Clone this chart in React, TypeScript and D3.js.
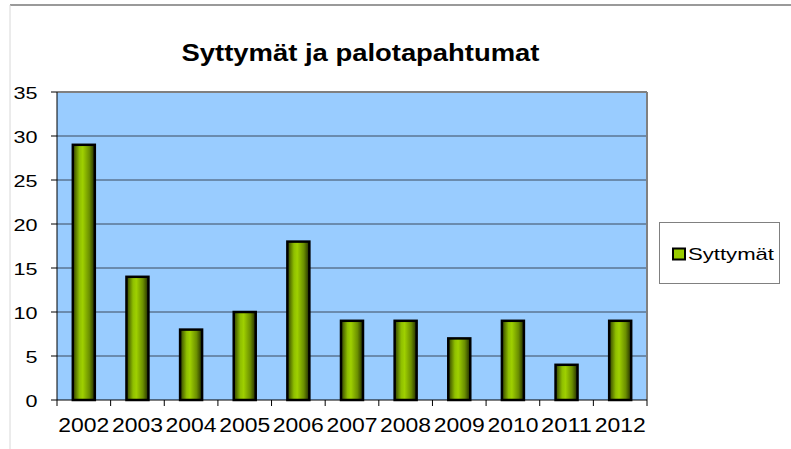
import React from "react";
import * as d3 from "d3";

const categories = ["2002","2003","2004","2005","2006","2007","2008","2009","2010","2011","2012"];
const values = [29,14,8,10,18,9,9,7,9,4,9];
const yTicks = [0,5,10,15,20,25,30,35];
const seriesName = "Syttymät";
const title = "Syttymät ja palotapahtumat";

export default function App() {
  const W = 791, H = 449;
  const left = 57, right = 647, top = 92, bottom = 400;
  const x = d3.scaleBand().domain(categories).range([left, right]).paddingInner(0).paddingOuter(0);
  const y = d3.scaleLinear().domain([0, 35]).range([bottom, top]);
  const bw = 22;
  const font = "Arial, 'Liberation Sans', sans-serif";
  return (
    <svg width={W} height={H} style={{ position: "absolute", left: 0, top: 0 }}>
      <defs>
        <linearGradient id="barg" x1="0" x2="1" y1="0" y2="0">
          <stop offset="0" stopColor="#2f3d00" />
          <stop offset="0.3" stopColor="#8fbf00" />
          <stop offset="0.45" stopColor="#9fd000" />
          <stop offset="0.75" stopColor="#6b8f00" />
          <stop offset="1" stopColor="#1f2900" />
        </linearGradient>
      </defs>
      <rect x={0} y={0} width={W} height={H} fill="#fff" />
      <line x1={10} x2={W} y1={5} y2={5} stroke="#9a9a9a" strokeWidth={2} />
      <line x1={10} x2={10} y1={5} y2={H} stroke="#d8d8d8" strokeWidth={1} />
      <text x={360.5} y={61} textAnchor="middle" fontFamily={font} fontWeight="bold" fontSize={23}
        textLength={358} lengthAdjust="spacingAndGlyphs" fill="#000">{title}</text>
      <rect x={left} y={top} width={right - left} height={bottom - top} fill="#99ccff" />
      {yTicks.filter(t => t > 0 && t < 35).map(t => (
        <line key={t} x1={left} x2={right} y1={y(t)} y2={y(t)} stroke="#3d4a5c" strokeWidth={1} />
      ))}
      <line x1={left} x2={right} y1={top} y2={top} stroke="#808080" strokeWidth={2} />
      <line x1={right} x2={right} y1={top} y2={bottom} stroke="#808080" strokeWidth={2} />
      {categories.map((c, i) => {
        const cx = (x(c) as number) + x.bandwidth() / 2;
        return (
          <rect key={c} x={cx - bw / 2} y={y(values[i])} width={bw} height={bottom - y(values[i])}
            fill="url(#barg)" stroke="#000" strokeWidth={2.5} />
        );
      })}
      <line x1={left} x2={left} y1={top} y2={bottom} stroke="#000" strokeWidth={1} />
      <line x1={left} x2={right} y1={bottom} y2={bottom} stroke="#000" strokeWidth={1} />
      {yTicks.map(t => {
        const s = String(t);
        return (
          <g key={t}>
            <line x1={left - 6} x2={left} y1={y(t)} y2={y(t)} stroke="#000" strokeWidth={1} />
            <text x={37.5} y={y(t) + 6.5} textAnchor="end" fontFamily={font} fontSize={17}
              textLength={s.length * 12} lengthAdjust="spacingAndGlyphs" fill="#000">{s}</text>
          </g>
        );
      })}
      {[...categories.map(c => x(c) as number), right].map((v, i) => (
        <line key={i} x1={v} x2={v} y1={bottom} y2={bottom + 6} stroke="#000" strokeWidth={1} />
      ))}
      {categories.map(c => (
        <text key={c} x={(x(c) as number) + x.bandwidth() / 2} y={432} textAnchor="middle" fontFamily={font} fontSize={19.5}
          textLength={51} lengthAdjust="spacingAndGlyphs" fill="#000">{c}</text>
      ))}
      <rect x={659.5} y={222.5} width={120} height={61} fill="#fff" stroke="#808080" strokeWidth={1} />
      <rect x={673} y={248.5} width={12} height={11} fill="#99cc00" stroke="#000" strokeWidth={2} />
      <text x={688} y={259.5} fontFamily={font} fontSize={17} textLength={86} lengthAdjust="spacingAndGlyphs" fill="#000">{seriesName}</text>
    </svg>
  );
}
